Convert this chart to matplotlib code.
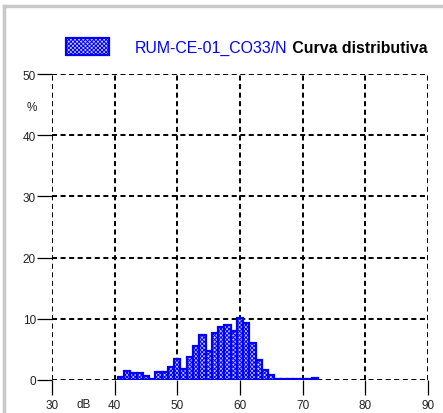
import matplotlib
matplotlib.use("Agg")
import matplotlib.pyplot as plt
from matplotlib.patches import Rectangle
from matplotlib.lines import Line2D

plt.rcParams['font.family'] = ['Liberation Sans', 'DejaVu Sans']
plt.rcParams['hatch.linewidth'] = 0.7
plt.rcParams['hatch.color'] = 'blue'

# Data: dB level (bin centre) -> percentage
levels = [41, 42, 43, 44, 45, 46, 47, 48, 49, 50,
          51, 52, 53, 54, 55, 56, 57, 58, 59, 60,
          61, 62, 63, 64, 65, 66, 67, 68, 69, 70, 71, 72]
percent = [0.45, 1.5, 1.1, 1.1, 0.65, 0.2, 1.35, 1.35, 2.1, 3.4,
           1.75, 3.8, 5.6, 7.35, 4.8, 7.7, 8.7, 9.05, 7.95, 10.1,
           9.25, 6.0, 3.25, 1.7, 0.85, 0.12, 0.12, 0.12, 0.12, 0.12, 0.12, 0.3]
x_ticks = [30, 40, 50, 60, 70, 80, 90]
y_ticks = [0, 10, 20, 30, 40, 50]
series_name = "RUM-CE-01_CO33/N"
title_text = "Curva distributiva"

W, H = 443, 414
fig = plt.figure(figsize=(W / 100, H / 100), dpi=100)
ax = fig.add_axes([52 / W, 1 - 381 / H, (428 - 52) / W, (381 - 75) / H])

ax.bar(levels, percent, width=1.0, color='#c8c8ff', edgecolor='blue',
       linewidth=1.6, hatch='xxxxxxxx', zorder=3)

ax.set_xlim(30, 90)
ax.set_ylim(0, 50)
ax.set_xticks(x_ticks)
ax.set_yticks(y_ticks)
for s in ax.spines.values():
    s.set_visible(False)
dash = (0, (2.6, 1.8))
for v in x_ticks:
    ax.axvline(v, color='black', linestyle=dash, linewidth=1.4, zorder=1)
for v in y_ticks:
    ax.axhline(v, color='black', linestyle=dash, linewidth=1.4, zorder=1)

ax.tick_params(axis='both', length=10.5, width=0.9, color='black',
               labelsize=8.5, labelcolor='#222222', pad=1)
ax.tick_params(axis='x', pad=3.5)

# axis unit labels placed like tick labels
ax.text(35, -3.0, "dB", transform=ax.transData, ha='center', va='top',
        fontsize=8.5, color='#222222', clip_on=False)
ax.text(-0.053, 0.892, "%", transform=ax.transAxes, ha='center', va='center',
        fontsize=8.5, color='#222222', clip_on=False)

# legend swatch
sw = Rectangle((66 / W, 1 - 56 / H), 43 / W, 17 / H, transform=fig.transFigure,
               facecolor='#c8c8ff', edgecolor='blue', hatch='xxxxxxxx', linewidth=1.6)
fig.add_artist(sw)
t1 = fig.text(135 / W, 1 - 53 / H, series_name, color='blue', fontsize=11.4,
              ha='left', va='baseline')
ax.annotate(" " + title_text, xy=(1, 0), xycoords=t1, color='black',
            fontsize=11.4, fontweight='bold', ha='left', va='bottom',
            annotation_clip=False)

# grey frame (top and left)
fig.add_artist(Line2D([4 / W, 1], [1 - 7 / H, 1 - 7 / H], transform=fig.transFigure,
                      color='#c8c8c8', linewidth=2.5))
fig.add_artist(Line2D([4 / W, 4 / W], [0, 1 - 7 / H], transform=fig.transFigure,
                      color='#c8c8c8', linewidth=2.5))

fig.savefig("out.png", dpi=100)
